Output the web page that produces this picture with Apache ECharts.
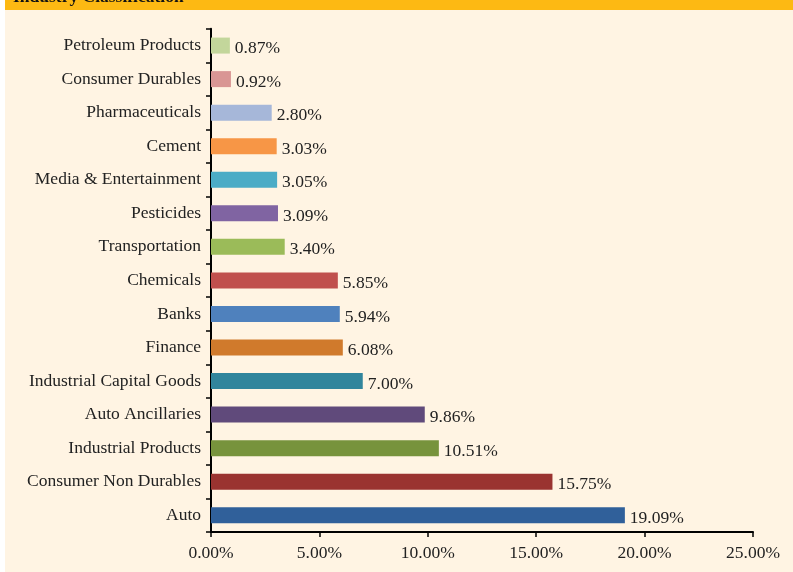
<!DOCTYPE html>
<html>
<head>
<meta charset="utf-8">
<script src="https://cdn.jsdelivr.net/npm/echarts@6/dist/echarts.min.js"></script>
<style>
  html, body { margin: 0; padding: 0; background: #fff; }
  #chart { width: 793px; height: 572px; }
</style>
</head>
<body>
<div id="chart"></div>
<script>
// top-down order, as shown
const categories = [
  'Petroleum Products', 'Consumer Durables', 'Pharmaceuticals', 'Cement',
  'Media & Entertainment', 'Pesticides', 'Transportation', 'Chemicals',
  'Banks', 'Finance', 'Industrial Capital Goods', 'Auto Ancillaries',
  'Industrial Products', 'Consumer Non Durables', 'Auto'
];
const values = [0.87, 0.92, 2.80, 3.03, 3.05, 3.09, 3.40, 5.85, 5.94, 6.08, 7.00, 9.86, 10.51, 15.75, 19.09];
const barColors = [
  '#C3D69B', '#D99694', '#A6B7D9', '#F79646', '#4BACC6', '#8064A2', '#9BBB59', '#C0504D',
  '#4F81BD', '#D07A2C', '#31859C', '#604A7B', '#77933C', '#9A3330', '#30609A'
];

const font = '"Liberation Serif", "DejaVu Serif", serif';
const chart = echarts.init(document.getElementById('chart'));

chart.setOption({
  backgroundColor: '#FFF4E3',
  animation: false,
  graphic: [
    { type: 'rect', left: 0, top: 0, shape: { width: 5, height: 572 }, style: { fill: '#ffffff' } },
    { type: 'rect', left: 5, top: 0, shape: { width: 788, height: 10 }, style: { fill: '#FDB913' } },
    { type: 'text', left: 13, top: -12, style: { text: 'Industry Classification', font: 'bold 17.5px ' + font, fill: '#111' } }
  ],
  grid: { left: 211, right: 40, top: 28.8, bottom: 40 },
  xAxis: {
    type: 'value',
    min: 0, max: 25, interval: 5,
    splitLine: { show: false },
    axisLine: { show: true, lineStyle: { color: '#000', width: 2 } },
    axisTick: { show: true, length: 5, lineStyle: { color: '#000', width: 1.5 } },
    axisLabel: {
      formatter: v => v.toFixed(2) + '%',
      fontFamily: font, fontSize: 17.5, color: '#222', margin: 12
    }
  },
  yAxis: {
    type: 'category',
    data: categories,
    inverse: true,
    axisLine: { show: true, lineStyle: { color: '#000', width: 2 } },
    axisTick: { show: true, length: 5, lineStyle: { color: '#000', width: 1.5 } },
    axisLabel: { fontFamily: font, fontSize: 17.5, color: '#222', margin: 10 }
  },
  series: [{
    type: 'bar',
    data: values.map((v, i) => ({ value: v, itemStyle: { color: barColors[i] } })),
    barWidth: 16,
    label: {
      show: true, position: 'right', distance: 5, offset: [0, 3],
      formatter: p => p.value.toFixed(2) + '%',
      fontFamily: font, fontSize: 17.5, color: '#222'
    }
  }]
});
</script>
</body>
</html>
